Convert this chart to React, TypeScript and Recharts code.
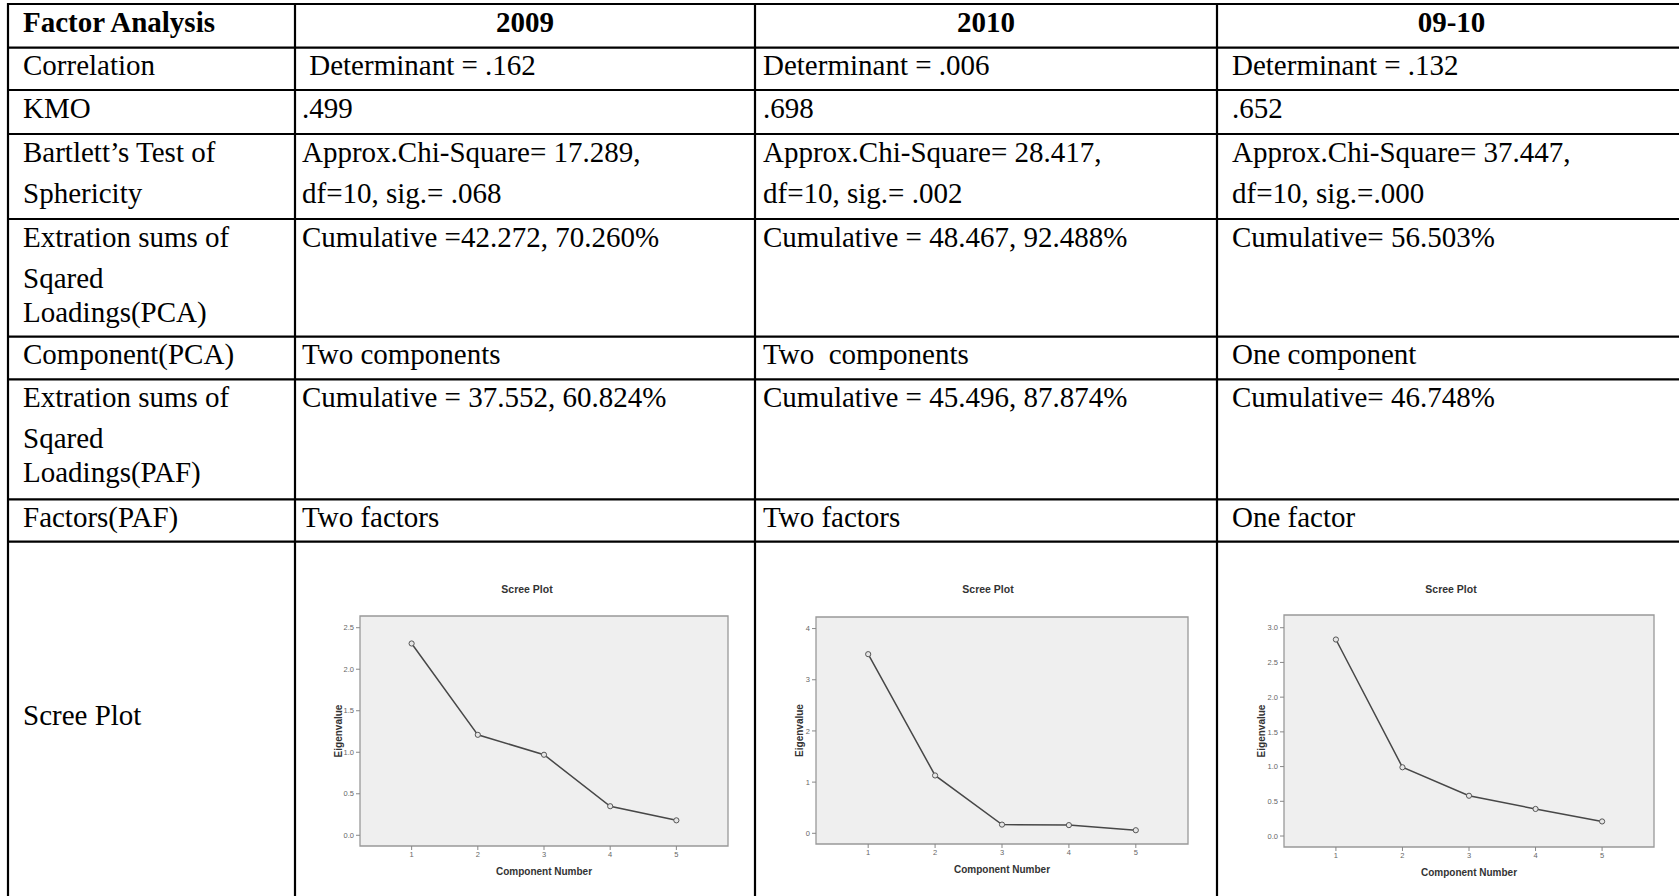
import React from "react";
import { LineChart, Line, XAxis, YAxis, ReferenceArea, Label } from "recharts";

// scree plot values
const components = [1, 2, 3, 4, 5];
const eigen2009 = [2.31, 1.21, 0.97, 0.35, 0.18];
const eigen2010 = [3.5, 1.13, 0.17, 0.16, 0.06];
const eigen0910 = [2.83, 0.99, 0.58, 0.39, 0.21];

const ticks2009 = [0, 0.5, 1, 1.5, 2, 2.5];
const ticks2010 = [0, 1, 2, 3, 4];
const ticks0910 = [0, 0.5, 1, 1.5, 2, 2.5, 3];

// table text
const headerCells = ["Factor Analysis", "2009", "2010", "09-10"];
const rowLabels = [
  ["Correlation"],
  ["KMO"],
  ["Bartlett’s Test of", "Sphericity"],
  ["Extration sums of", "Sqared", "Loadings(PCA)"],
  ["Component(PCA)"],
  ["Extration sums of", "Sqared", "Loadings(PAF)"],
  ["Factors(PAF)"],
];
const cells2009 = [
  [" Determinant = .162"],
  [".499"],
  ["Approx.Chi-Square= 17.289,", "df=10, sig.= .068"],
  ["Cumulative =42.272, 70.260%"],
  ["Two components"],
  ["Cumulative = 37.552, 60.824%"],
  ["Two factors"],
];
const cells2010 = [
  ["Determinant = .006"],
  [".698"],
  ["Approx.Chi-Square= 28.417,", "df=10, sig.= .002"],
  ["Cumulative = 48.467, 92.488%"],
  ["Two  components"],
  ["Cumulative = 45.496, 87.874%"],
  ["Two factors"],
];
const cells0910 = [
  ["Determinant = .132"],
  [".652"],
  ["Approx.Chi-Square= 37.447,", "df=10, sig.=.000"],
  ["Cumulative= 56.503%"],
  ["One component"],
  ["Cumulative= 46.748%"],
  ["One factor"],
];
const screeLabel = "Scree Plot";

// layout
const rowTops = [4, 47.7, 90, 134, 219, 336.7, 379.3, 499.3, 541.7];
const colEdges = [8, 295, 755, 1217, 1686];
const textLeft = [23, 302, 763, 1232];
const lineOffsets = [0, 41, 75];
const serif = "'Liberation Serif', 'Times New Roman', serif";
const sans = "'Liberation Sans', Arial, sans-serif";

type ScreeProps = {
  values: number[];
  ticks: number[];
  yDomain: [number, number];
  box: { left: number; top: number; width: number; height: number };
  titleX: number;
  yLabelOffset: number;
  decimals: number;
};

const X_DOMAIN: [number, number] = [0.22, 5.78];
const ML = 60;
const MT = 40;
const MB = 50;
const MR = 10;

function ScreePlot({ values, ticks, yDomain, box, titleX, yLabelOffset, decimals }: ScreeProps) {
  const data = components.map((c, i) => ({ component: c, eigen: values[i] }));
  return (
    <>
      <div
        style={{
          position: "absolute",
          left: titleX - 100,
          top: 583,
          width: 200,
          textAlign: "center",
          fontFamily: sans,
          fontWeight: 700,
          fontSize: 10.5,
          lineHeight: "12px",
          color: "#333",
        }}
      >
        Scree Plot
      </div>
      <div style={{ position: "absolute", left: box.left - ML, top: box.top - MT }}>
        <LineChart
          width={ML + box.width + MR}
          height={MT + box.height + MB}
          data={data}
          margin={{ top: MT, right: MR, bottom: 0, left: 0 }}
        >
          <ReferenceArea
            x1={X_DOMAIN[0]}
            x2={X_DOMAIN[1]}
            y1={yDomain[0]}
            y2={yDomain[1]}
            fill="#efefef"
            fillOpacity={1}
            stroke="#999"
            strokeWidth={1.3}
            ifOverflow="visible"
          />
          <XAxis
            dataKey="component"
            type="number"
            domain={X_DOMAIN}
            ticks={components}
            allowDataOverflow
            interval={0}
            axisLine={false}
            tickSize={4}
            tickLine={{ stroke: "#888" }}
            tick={{ fontSize: 7.5, fill: "#666", fontFamily: sans }}
            height={MB}
          >
            <Label
              value="Component Number"
              position="insideBottom"
              offset={21.5}
              style={{ fontSize: 10, fontWeight: 700, fill: "#333", fontFamily: sans }}
            />
          </XAxis>
          <YAxis
            type="number"
            domain={yDomain}
            ticks={ticks}
            allowDataOverflow
            interval={0}
            axisLine={false}
            tickSize={4}
            tickLine={{ stroke: "#888" }}
            tick={{ fontSize: 7.5, fill: "#666", fontFamily: sans }}
            tickFormatter={(v: number) => v.toFixed(decimals)}
            width={ML}
          >
            <Label
              value="Eigenvalue"
              angle={-90}
              position="insideLeft"
              offset={yLabelOffset}
              style={{ fontSize: 10, fontWeight: 700, fill: "#333", fontFamily: sans, textAnchor: "middle" }}
            />
          </YAxis>
          <Line
            dataKey="eigen"
            stroke="#474747"
            strokeWidth={1.5}
            dot={{ r: 2.6, stroke: "#555", strokeWidth: 1, fill: "#e6e6e6" }}
            isAnimationActive={false}
          />
        </LineChart>
      </div>
    </>
  );
}

function TableLayer() {
  const bodyCols = [rowLabels, cells2009, cells2010, cells0910];
  return (
    <svg width={1679} height={896} style={{ position: "absolute", left: 0, top: 0 }}>
      {rowTops.map((y, i) => (
        <line key={"h" + i} x1={colEdges[0] - 1} x2={1690} y1={y} y2={y} stroke="#000" strokeWidth={2.2} />
      ))}
      {colEdges.map((x, i) => (
        <line key={"v" + i} x1={x} x2={x} y1={rowTops[0] - 1} y2={900} stroke="#000" strokeWidth={2.2} />
      ))}
      <g fontFamily={serif} fontSize={29} fill="#000">
        {headerCells.map((h, c) => (
          <text
            key={"hd" + c}
            x={c === 0 ? textLeft[0] : (colEdges[c] + colEdges[c + 1]) / 2}
            y={rowTops[0] + 27.5}
            textAnchor={c === 0 ? "start" : "middle"}
            fontWeight={700}
          >
            {h}
          </text>
        ))}
        {bodyCols.map((col, c) =>
          col.map((lines, r) =>
            lines.map((ln, k) => (
              <text
                key={`t${c}-${r}-${k}`}
                x={textLeft[c]}
                y={rowTops[r + 1] + 27.5 + lineOffsets[k]}
                style={{ whiteSpace: "pre" }}
              >
                {ln}
              </text>
            ))
          )
        )}
        <text x={textLeft[0]} y={725}>
          {screeLabel}
        </text>
      </g>
    </svg>
  );
}

export default function App() {
  return (
    <div
      style={{
        position: "absolute",
        left: 0,
        top: 0,
        width: 1679,
        height: 896,
        overflow: "hidden",
        background: "#fff",
      }}
    >
      <TableLayer />
      <ScreePlot
        values={eigen2009}
        ticks={ticks2009}
        yDomain={[-0.129, 2.641]}
        box={{ left: 360, top: 616, width: 368, height: 230 }}
        titleX={527}
        yLabelOffset={38}
        decimals={1}
      />
      <ScreePlot
        values={eigen2010}
        ticks={ticks2010}
        yDomain={[-0.209, 4.226]}
        box={{ left: 816, top: 617, width: 372, height: 227 }}
        titleX={988}
        yLabelOffset={43}
        decimals={0}
      />
      <ScreePlot
        values={eigen0910}
        ticks={ticks0910}
        yDomain={[-0.158, 3.183]}
        box={{ left: 1284, top: 615, width: 370, height: 232 }}
        titleX={1451}
        yLabelOffset={37}
        decimals={1}
      />
    </div>
  );
}
